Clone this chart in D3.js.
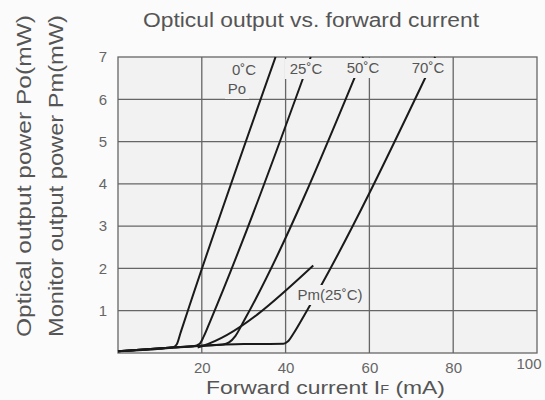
<!DOCTYPE html>
<html>
<head>
<meta charset="utf-8">
<script src="https://cdn.jsdelivr.net/npm/d3@7"></script>
<style>
  body { margin: 0; background: #fbfbfb; }
  svg { display: block; }
  text { font-family: "Liberation Sans", Arial, sans-serif; fill: #555; }
</style>
</head>
<body>
<div id="chart"></div>
<script>
// data: [current mA, power mW]
var po0C  = [[0, 0.04], [10, 0.1], [13, 0.13], [14, 0.2], [15, 0.5], [17, 1.1], [37.6, 7]];
var po25C = [[0, 0.04], [13, 0.13], [18, 0.16], [19.5, 0.22], [20.5, 0.4], [22, 0.75], [46, 7]];
var po50C = [[0, 0.04], [13, 0.13], [20, 0.17], [25, 0.2], [26.5, 0.25], [28, 0.4], [30, 0.75], [58.5, 7]];
var po70C = [[0, 0.04], [13, 0.13], [20, 0.17], [30, 0.21], [39.5, 0.22], [40.5, 0.27], [42, 0.48], [44.5, 0.9], [75.7, 7]];
var pm25C = [[19, 0.13], [20, 0.16], [46.6, 2.07]];

var xTicks = [20, 40, 60, 80, 100];
var yTicks = [1, 2, 3, 4, 5, 6, 7];
var xGrid = [20, 40, 60, 80];
var yGrid = [1, 2, 3, 4, 5, 6];

var width = 545, height = 400;
var margin = {top: 57, right: 8, bottom: 47, left: 118};

var svg = d3.select('#chart').append('svg')
    .attr('width', width)
    .attr('height', height);

var x = d3.scaleLinear().domain([0, 100]).range([margin.left, width - margin.right]);
var y = d3.scaleLinear().domain([0, 7]).range([height - margin.bottom, margin.top]);

// plot area
svg.append('rect')
    .attr('x', x(0)).attr('y', y(7))
    .attr('width', x(100) - x(0)).attr('height', y(0) - y(7))
    .style('fill', '#f2f2f2');

var grid = svg.append('g')
    .style('stroke', '#666')
    .style('stroke-width', 1.3);

grid.selectAll('line.v')
    .data(xGrid)
  .enter().append('line')
    .attr('class', 'v')
    .attr('x1', function(d) { return x(d); })
    .attr('x2', function(d) { return x(d); })
    .attr('y1', y(0)).attr('y2', y(7));

grid.selectAll('line.h')
    .data(yGrid)
  .enter().append('line')
    .attr('class', 'h')
    .attr('x1', x(0)).attr('x2', x(100))
    .attr('y1', function(d) { return y(d); })
    .attr('y2', function(d) { return y(d); });

svg.append('rect')
    .attr('x', x(0)).attr('y', y(7))
    .attr('width', x(100) - x(0)).attr('height', y(0) - y(7))
    .style('fill', 'none')
    .style('stroke', '#666')
    .style('stroke-width', 1.3);

// curves
var line = d3.line()
    .x(function(d) { return x(d[0]); })
    .y(function(d) { return y(d[1]); })
    .curve(d3.curveMonotoneX);

svg.append('g').selectAll('path')
    .data([po0C, po25C, po50C, po70C, pm25C])
  .enter().append('path')
    .attr('d', line)
    .style('fill', 'none')
    .style('stroke', '#1a1a1a')
    .style('stroke-width', 2);

// axes, labels only
var xAxis = svg.append('g')
    .attr('transform', 'translate(0,' + y(0) + ')')
    .call(d3.axisBottom(x).tickValues(xTicks).tickFormat(d3.format('d')).tickSize(0).tickPadding(9));
var yAxis = svg.append('g')
    .attr('transform', 'translate(' + x(0) + ',0)')
    .call(d3.axisLeft(y).tickValues(yTicks).tickFormat(d3.format('d')).tickSize(0).tickPadding(11));
[xAxis, yAxis].forEach(function(a) {
    a.select('.domain').remove();
    a.selectAll('text')
        .style('font-family', '"Liberation Sans", Arial, sans-serif')
        .style('font-size', '15px')
        .style('fill', '#666');
});
// last x label sits inside the page edge, as in the reference
xAxis.selectAll('text')
    .filter(function(d) { return d === 100; })
    .attr('text-anchor', 'end')
    .attr('dx', 4)
    .attr('dy', '0.45em');

// curve labels on patches
var labels = [
    {t: '0\u02daC', cx: 244, cy: 70, w: 34},
    {t: 'Po', cx: 237, cy: 89, w: 24},
    {t: '25\u02daC', cx: 306, cy: 69, w: 42},
    {t: '50\u02daC', cx: 363, cy: 68, w: 42},
    {t: '70\u02daC', cx: 428, cy: 68, w: 42},
    {t: 'Pm(25\u02daC)', cx: 330, cy: 295, w: 72}
];
var lab = svg.append('g').selectAll('g')
    .data(labels)
  .enter().append('g');
lab.append('rect')
    .attr('x', function(d) { return d.cx - d.w / 2; })
    .attr('y', function(d) { return d.cy - 10; })
    .attr('width', function(d) { return d.w; })
    .attr('height', 20)
    .style('fill', '#f2f2f2');
lab.append('text')
    .attr('x', function(d) { return d.cx; })
    .attr('y', function(d) { return d.cy + 5; })
    .attr('text-anchor', 'middle')
    .style('font-size', '15px')
    .text(function(d) { return d.t; });

// titles
svg.append('text')
    .attr('x', 311).attr('y', 27)
    .attr('text-anchor', 'middle')
    .attr('textLength', 336).attr('lengthAdjust', 'spacingAndGlyphs')
    .style('font-size', '20px')
    .text('Opticul output vs. forward current');

var xt = svg.append('text')
    .attr('x', 206).attr('y', 394)
    .attr('textLength', 239).attr('lengthAdjust', 'spacingAndGlyphs')
    .style('font-size', '19px');
xt.append('tspan').text('Forward current I');
xt.append('tspan').style('font-size', '12px').text('F');
xt.append('tspan').text(' (mA)');

svg.append('text')
    .attr('transform', 'translate(31,176) rotate(-90)')
    .attr('text-anchor', 'middle')
    .attr('textLength', 322).attr('lengthAdjust', 'spacingAndGlyphs')
    .style('font-size', '21px')
    .text('Optical output power Po(mW)');
svg.append('text')
    .attr('transform', 'translate(63,176) rotate(-90)')
    .attr('text-anchor', 'middle')
    .attr('textLength', 322).attr('lengthAdjust', 'spacingAndGlyphs')
    .style('font-size', '21px')
    .text('Monitor output power Pm(mW)');
</script>
</body>
</html>
